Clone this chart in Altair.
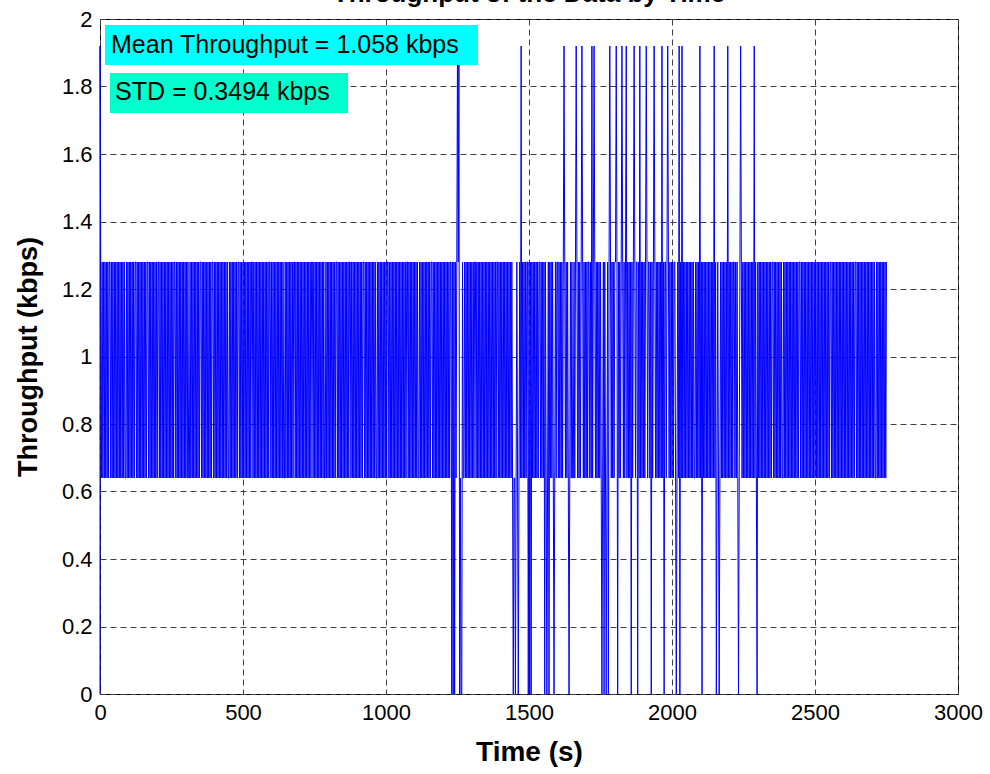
import altair as alt
import pandas as pd

# ---------------- data ----------------
TITLE = "Throughput of the Data by Time"
X_TITLE = "Time (s)"
Y_TITLE = "Throughput (kbps)"
ANNOTATIONS = ["Mean Throughput = 1.058 kbps", "STD = 0.3494 kbps"]

SAMPLE_STEP = 2.5  # seconds between samples
LEVEL_VALUES = {"H": 1.28, "L": 0.64}
START_TIMES = [0, 0]
START_VALUES = [0.0, 1.92]
SPIKE_VALUE = 1.92
DROP_VALUE = 0.0

LEVELS = (
    "HLHLHLHLHL HLHHLHLHLH LHLHLHLHLH LHLHLLHLHL HLHLHLHLHH"
    "LHLHLHLHLH LHLHLHHLHL HLHLHLHLHL HHLHLHLHLH LHLHLHLHLH"
    "LHLHHLHLHL HLHLHLHLHL HLHLLHLHLH LHLHLHLHLH HLHLHLHLHL"
    "HLHLHLHHLH LHLHLHLHLH LHLHLHLHLL HLHLHLHLHL HLHHLHLHLH"
    "LHLHLHLHLH LHHLHLHLHL HLHLHLHLHL HLHLHLHHLH LHLHLHLHLH"
    "LHLHLHLLHL HLHLHLHLHL HHLHLHLHLH LHLHLHLHLH LHLHLHHLHL"
    "HLHLHLHLHL HLHLLHLHLH LHLHLHLHLH HLHLHLHLHL HLHLHLHLHH"
    "LHLHLHLHLH LHLHLHLHHL HLHLHLHLHL HLHLHLLHLH LHLHLHLHLH"
    "LHHLHLHLHL HLHLHLHLHL HLHLHLHLHH LHLHLHLHLH LHLHLLHLHL"
    "HLHLHLHLHL HLHHLHLHLH LHLHLHLHLH LHLHLHLHLH HLHLHLHLHL"
    "HLHLHLHLLH LHLHLHLHLH LHLHHLHLHL HLHLHLHLHL HLHLHLHLHL"
    "HLHLHHLHLH LHLHLHLHLH LHLHLHLHLL HLHLHLHLHL HLHLHLHHLH"
    "LHLHLHLHLH LHLHHLHLHL HLHLHLHLHL HLHLHLHLHH LHLHLHLHLH"
    "LHLHLHLHLH LLHLHLHLHL HLHLHLHLHL HLHHLHLHLH LHLHLHLHLH"
    "LHLHLHLHLH LHLHLHLHLH HLHLHLHLHL HLHLHLLHLH LHLHLHLHLH"
    "HLHLHLHLHL HLHLHLHHLH LHLHLHLHLH LHLHLHLHLH HLHLHLHLHL"
    "HLHHLHLHLH LHLHLHLHLH LHLHLHLHLH LLHLHLHLHL HLHLHLHLHL"
    "HLHLHLHLHL HHLHLHLHLH LHLHLHLHLH LHLHLHHLHL HLHLHLHLHL"
    "HLHLHLHLHL HLHLHLHLLH LHLHLHLHLH LHLHLHLHLH HLHLHLHLHL"
    "HLHLLHLHLH LHLHLHLHLH LHLHLHLHHL HLHLHLHLHL HLHLHLHLHL"
    "HLHLHLHLHL HLHLHLHLHL HHLHLHLHLH LHLHLHLHLH LHLHLHLHLH"
    "LHLHLHHLHL HLHLHLHLHL HLHLHLHLHL HLHLLHLHLH LHLHLHLHLH"
).replace(" ", "")

SPIKE_TIMES = [1250, 1254, 1472, 1622, 1664, 1685, 1720, 1727, 1783, 1804,
               1825, 1839, 1867, 1888, 1909, 1937, 1965, 1986, 2024, 2035,
               2098, 2147, 2196, 2241, 2287]
DROP_TIMES = [1231, 1236, 1241, 1257, 1262, 1266, 1444, 1452, 1462, 1497,
              1502, 1507, 1556, 1563, 1570, 1587, 1640, 1755, 1762, 1769,
              1778, 1811, 1857, 1881, 1927, 1972, 2014, 2028, 2105, 2154,
              2164, 2232, 2297]

X_TICKS = [0, 500, 1000, 1500, 2000, 2500, 3000]
Y_TICKS = [0, 0.2, 0.4, 0.6, 0.8, 1, 1.2, 1.4, 1.6, 1.8, 2]

# ---------------- build table ----------------
values = [LEVEL_VALUES[c] for c in LEVELS]
for t in DROP_TIMES:
    i = int(round(t / SAMPLE_STEP)) - 1
    if 0 <= i < len(values):
        values[i] = DROP_VALUE
for t in SPIKE_TIMES:
    i = int(round(t / SAMPLE_STEP)) - 1
    if 0 <= i < len(values):
        values[i] = SPIKE_VALUE

times = list(START_TIMES) + [SAMPLE_STEP * (i + 1) for i in range(len(values))]
vals = list(START_VALUES) + values
df = pd.DataFrame({"idx": list(range(len(times))), "t": times, "v": vals})

FONT = "Liberation Sans"

line = alt.Chart(df).mark_line(color="#0000FF", strokeWidth=1).encode(
    x=alt.X("t:Q", scale=alt.Scale(domain=[0, 3000], nice=False),
            axis=alt.Axis(values=X_TICKS, title=X_TITLE, format="d",
                          labelFontSize=22, labelFont=FONT, labelColor="black",
                          labelPadding=8, titleFontSize=28, titleFont=FONT,
                          titleFontWeight="bold", titleColor="black",
                          titlePadding=15, ticks=False, tickSize=0,
                          domain=False, grid=True, gridDash=[6, 4],
                          gridColor="#404040", gridOpacity=1, gridWidth=1,
                          labelFlush=False)),
    y=alt.Y("v:Q", scale=alt.Scale(domain=[0, 2], nice=False),
            axis=alt.Axis(values=Y_TICKS, title=Y_TITLE, format="~g",
                          labelFontSize=22, labelFont=FONT, labelColor="black",
                          labelPadding=8, titleFontSize=27, titleFont=FONT,
                          titleFontWeight="bold", titleColor="black",
                          titlePadding=19, ticks=False, tickSize=0,
                          domain=False, grid=True, gridDash=[6, 4],
                          gridColor="#404040", gridOpacity=1, gridWidth=1,
                          labelFlush=False)),
    order="idx:Q",
)

ann_df1 = pd.DataFrame({"label": [ANNOTATIONS[0]]})
ann_df2 = pd.DataFrame({"label": [ANNOTATIONS[1]]})
title_df = pd.DataFrame({"label": [TITLE]})

box1 = alt.Chart(ann_df1).mark_rect(color="#00FFFF").encode(
    x=alt.value(5), x2=alt.value(378), y=alt.value(6), y2=alt.value(46))
text1 = alt.Chart(ann_df1).mark_text(
    align="left", baseline="alphabetic", fontSize=25, font=FONT, color="black"
).encode(x=alt.value(11), y=alt.value(34), text="label:N")

box2 = alt.Chart(ann_df2).mark_rect(color="#00FFCC").encode(
    x=alt.value(10), x2=alt.value(248), y=alt.value(54), y2=alt.value(94))
text2 = alt.Chart(ann_df2).mark_text(
    align="left", baseline="alphabetic", fontSize=25, font=FONT, color="black"
).encode(x=alt.value(15), y=alt.value(81), text="label:N")

title = alt.Chart(title_df).mark_text(
    align="center", baseline="alphabetic", fontSize=26, font=FONT,
    fontWeight="bold", color="black"
).encode(x=alt.value(429), y=alt.value(-17), text="label:N")

chart = alt.layer(line, box1, text1, box2, text2, title).properties(
    width=858, height=675,
    autosize=alt.AutoSizeParams(type="none"),
    padding={"left": 100, "top": 19, "right": 32, "bottom": 80},
    background="white",
).configure_view(stroke="black", strokeWidth=1)

chart.save("out.html", embed_options={"renderer": "svg", "actions": False})
